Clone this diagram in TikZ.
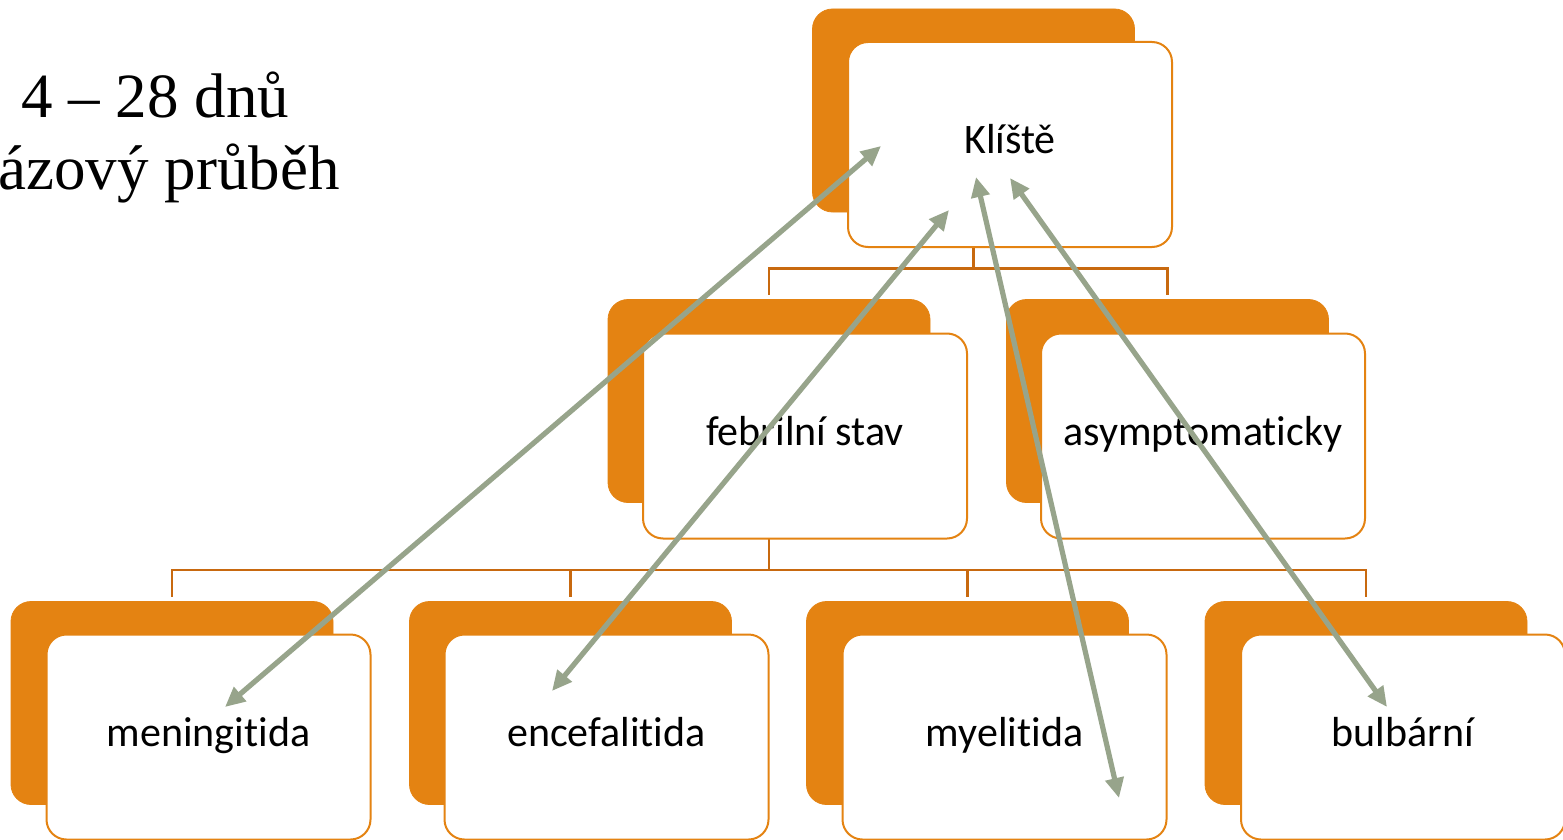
\documentclass[tikz,border=0pt]{standalone}
\usepackage{fontspec}
\setmainfont{Liberation Serif}
\newfontfamily\boxfont[Ligatures={NoCommon,NoRare,NoContextual}]{Carlito}
\usetikzlibrary{arrows.meta,backgrounds}
\definecolor{boxorange}{HTML}{E48312}
\definecolor{treeorange}{HTML}{C8690F}
\definecolor{arrowgreen}{HTML}{97A48B}
\begin{document}
\begin{tikzpicture}[x=0.5pt, y=-0.5pt,
    back/.style={rectangle, rounded corners=10pt, fill=boxorange, draw=boxorange, minimum width=161pt, minimum height=101.5pt, inner sep=0pt},
    front/.style={rectangle, rounded corners=10pt, fill=white, draw=boxorange, line width=1pt, minimum width=162pt, minimum height=102.5pt, text height=14pt, text depth=4.5pt, font=\boxfont\fontsize{21}{25}\selectfont},
    tree/.style={draw=treeorange, line width=1.2pt},
    link/.style={draw=arrowgreen, line width=2.6pt, {Triangle[length=10pt,width=9pt]}-{Triangle[length=10pt,width=9pt]}}]

    \useasboundingbox (0,0) rectangle (1563,840);

    % Text on the left
    \node[anchor=base west, inner sep=0pt, font=\fontsize{31.5}{36}\selectfont] (dny) at (21,118) {4 – 28 dnů};
    \node[anchor=base west, inner sep=0pt, font=\fontsize{31.5}{36}\selectfont] (faze) at (-2,190) {ázový průběh};

    % Top box
    \node[back] (klisteB) at (973.5,110.5) {};
    \node[front] (kliste) at (1010,144.5) {Klíště};

    % Middle row
    \node[back] (febrilB) at (769,401) {};
    \node[front] (febril) at (805,436) {febrilní stav};
    \node[back] (asymB) at (1167.5,401) {};
    \node[front] (asym) at (1203,436) {asymptomaticky};

    % Bottom row
    \node[back] (meningB) at (172,703) {};
    \node[front] (mening) at (208.5,737) {meningitida};
    \node[back] (encefB) at (570.5,703) {};
    \node[front] (encef) at (606.5,737) {encefalitida};
    \node[back] (myelB) at (967.5,703) {};
    \node[front] (myel) at (1004.5,737) {myelitida};
    \node[back] (bulbB) at (1366,703) {};
    \node[front] (bulb) at (1403,737) {bulbární};

    % Tree lines
    \begin{scope}[on background layer]
        \draw[tree] (klisteB.south) -- ++(0,56) -| ([yshift=2pt]febrilB.north);
        \draw[tree] (klisteB.south) -- ++(0,56) -| ([yshift=2pt]asymB.north);
        \draw[tree] (febrilB.south) -- ++(0,67) -| ([yshift=2pt]meningB.north);
        \draw[tree] (febrilB.south) -- ++(0,67) -| ([yshift=2pt]encefB.north);
        \draw[tree] (febrilB.south) -- ++(0,67) -| ([yshift=2pt]myelB.north);
        \draw[tree] (febrilB.south) -- ++(0,67) -| ([yshift=2pt]bulbB.north);
    \end{scope}

    % Arrow ends
    \coordinate (m1) at (881,146);
    \coordinate (m2) at (225,707);
    \coordinate (e1) at (949,210);
    \coordinate (e2) at (552,691);
    \coordinate (y1) at (976,177);
    \coordinate (y2) at (1119,798);
    \coordinate (b1) at (1010,178);
    \coordinate (b2) at (1387,707);

    % Arrows
    \draw[link] (m1) -- (m2);
    \draw[link] (e1) -- (e2);
    \draw[link] (y1) -- (y2);
    \draw[link] (b1) -- (b2);

\end{tikzpicture}
\end{document}
